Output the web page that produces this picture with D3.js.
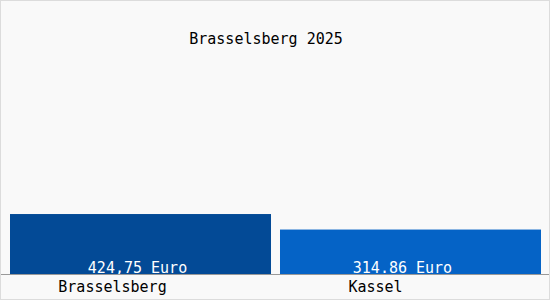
<!DOCTYPE html>
<html>
<head>
<meta charset="utf-8">
<script src="https://cdn.jsdelivr.net/npm/d3@7"></script>
<style>
  body { margin: 0; background: #fff; }
  text { font-family: "DejaVu Sans Mono", monospace; }
</style>
</head>
<body>
<svg id="chart" width="550" height="300"></svg>
<script>
var title = "Brasselsberg 2025";
var places = ["Brasselsberg", "Kassel"];
var prices = [424.75, 314.86];
var priceLabels = ["424,75 Euro", "314.86 Euro"];
var barColors = ["#034a96", "#0563c6"];

var svg = d3.select("#chart");
var W = 550, H = 300;

svg.append("rect")
  .attr("x", 0.5).attr("y", 0.5)
  .attr("width", W - 1).attr("height", H - 1)
  .style("fill", "#f9f9f9")
  .style("stroke", "#dcdcdc");

var x = d3.scaleBand()
  .domain(places)
  .range([10, 541])
  .paddingInner(0.0333);

var y = d3.scaleLinear()
  .domain([0, 1700])
  .range([274, 34]);

svg.append("text")
  .attr("x", 266)
  .attr("y", 44)
  .style("text-anchor", "middle")
  .style("font-size", "15px")
  .style("fill", "#000")
  .text(title);

svg.selectAll(".bar")
  .data(places)
  .enter()
  .append("rect")
  .attr("class", "bar")
  .attr("x", function(d) { return x(d); })
  .attr("y", function(d, i) { return y(prices[i]); })
  .attr("width", x.bandwidth())
  .attr("height", function(d, i) { return y(0) - y(prices[i]); })
  .style("fill", function(d, i) { return barColors[i]; });

svg.selectAll(".val")
  .data(places)
  .enter()
  .append("text")
  .attr("class", "val")
  .attr("x", function(d, i) { return x(d) + x.bandwidth() / 2 - (i ? 8 : 3); })
  .attr("y", 273)
  .style("text-anchor", "middle")
  .style("font-size", "15px")
  .style("fill", "#fff")
  .text(function(d, i) { return priceLabels[i]; });

// baseline
svg.append("line")
  .attr("x1", 1).attr("x2", W - 1)
  .attr("y1", y(0) + 0.5).attr("y2", y(0) + 0.5)
  .style("stroke", "#999")
  .style("stroke-width", 1);

svg.selectAll(".cat")
  .data(places)
  .enter()
  .append("text")
  .attr("class", "cat")
  .attr("x", function(d, i) { return x(d) + x.bandwidth() / 2 - (i ? 35 : 28); })
  .attr("y", 292)
  .style("text-anchor", "middle")
  .style("font-size", "15px")
  .style("fill", "#000")
  .text(function(d) { return d; });
</script>
</body>
</html>
